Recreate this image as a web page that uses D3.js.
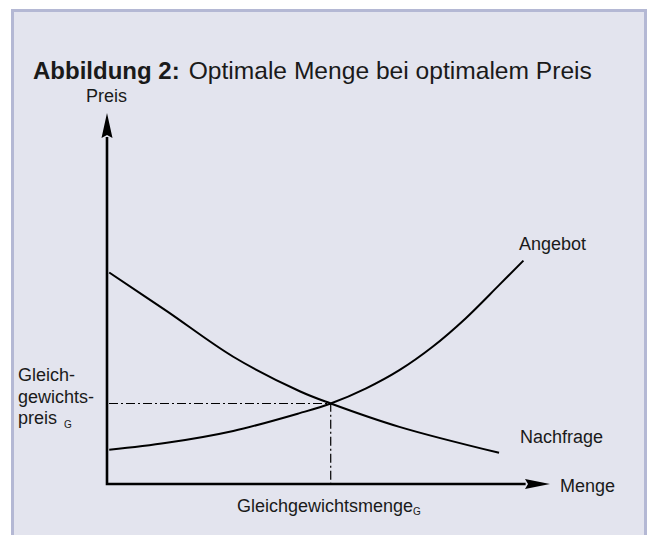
<!DOCTYPE html>
<html><head><meta charset="utf-8">
<script src="https://cdn.jsdelivr.net/npm/d3@7/dist/d3.min.js"></script>
<style>
html,body{margin:0;padding:0;background:#fff;}
svg{display:block;}
text{font-family:"Liberation Sans",Arial,Helvetica,sans-serif;fill:#1a1a1a;}
</style></head>
<body>
<script>
// Data (quantity 0..100, price 0..100)
const demandQ = [0.5, 13.5, 28.5, 43.5, 50.5, 66, 88.5];
const demandP = [57, 46.6, 34.3, 25, 21.7, 15.4, 8.4];
const supplyQ = [0.5, 13.5, 28.5, 43.5, 50.5, 58.5, 66, 73.5, 81, 88.5, 94];
const supplyP = [9.2, 11.1, 14.3, 19.1, 21.7, 25.8, 30.7, 37, 44.7, 53.6, 60.2];
const equilibrium = {q: 50.5, p: 21.7};
const titleBold = "Abbildung 2:";
const titleRest = "Optimale Menge bei optimalem Preis";
const yLabel = "Preis";
const xLabel = "Menge";
const supplyLabel = "Angebot";
const demandLabel = "Nachfrage";
const eqQtyLabel = "Gleichgewichtsmenge";
const eqPriceLines = ["Gleich-", "gewichts-", "preis"];
const subG = "G";

const W = 649, H = 535;
const svg = d3.select("body").append("svg").attr("width", W).attr("height", H);

svg.append("rect").attr("x", 12.5).attr("y", 10.5).attr("width", 633).attr("height", 540)
  .attr("fill", "#e3e4ee").attr("stroke", "#b4b8d4").attr("stroke-width", 3);

const x = d3.scaleLinear().domain([0, 100]).range([107, 550]);
const y = d3.scaleLinear().domain([0, 100]).range([484, 113]);

// Title
const t = svg.append("text").attr("x", 33).attr("y", 79).attr("font-size", 24);
t.append("tspan").attr("font-weight", "bold").text(titleBold);
t.append("tspan").attr("dx", 9).attr("font-size", 24.6).text(titleRest);

// Axes
const g = svg.append("g");
g.append("path")
  .attr("d", `M${x(0)},${y(93.5)}V${y(0)}H${x(94.5)}`)
  .attr("fill", "none").attr("stroke", "#000").attr("stroke-width", 2.6)
  .attr("stroke-linejoin", "miter").attr("stroke-linecap", "butt");
const ay = y(100), ax = x(100);
g.append("path")
  .attr("d", `M${x(0)},${ay}L${x(0)+5.5},${ay+25}L${x(0)},${ay+22}L${x(0)-5.5},${ay+25}Z`)
  .attr("fill", "#000");
g.append("path")
  .attr("d", `M${ax},${y(0)}L${ax-25},${y(0)-5}L${ax-22},${y(0)}L${ax-25},${y(0)+5}Z`)
  .attr("fill", "#000");

// Equilibrium dash-dot guides
g.append("path")
  .attr("d", `M${x(0)+2},${y(equilibrium.p)}H${x(equilibrium.q)}V${y(0)}`)
  .attr("fill", "none").attr("stroke", "#000").attr("stroke-width", 1.2)
  .attr("stroke-dasharray", "9,3,2,3");

const line = d3.line().x(d => x(d[0])).y(d => y(d[1])).curve(d3.curveCatmullRom.alpha(0.5));
g.append("path").datum(demandQ.map((q, i) => [q, demandP[i]]))
  .attr("d", line).attr("fill", "none").attr("stroke", "#000").attr("stroke-width", 2);
g.append("path").datum(supplyQ.map((q, i) => [q, supplyP[i]]))
  .attr("d", line).attr("fill", "none").attr("stroke", "#000").attr("stroke-width", 2);

// Labels
const fs = 18;
svg.append("text").attr("x", 86).attr("y", 102).attr("font-size", fs).text(yLabel);
svg.append("text").attr("x", 560).attr("y", 492).attr("font-size", fs).text(xLabel);
svg.append("text").attr("x", 519).attr("y", 250).attr("font-size", fs).text(supplyLabel);
svg.append("text").attr("x", 520).attr("y", 443).attr("font-size", fs).text(demandLabel);

const eq = svg.append("text").attr("x", 237).attr("y", 512).attr("font-size", fs);
eq.append("tspan").text(eqQtyLabel);
eq.append("tspan").attr("font-size", 10).attr("dy", 3).text(subG);

const baselines = [381, 403, 424];
eqPriceLines.forEach((s, i) => {
  svg.append("text").attr("x", 18).attr("y", baselines[i]).attr("font-size", fs).text(s);
});
svg.append("text").attr("x", 64).attr("y", 428).attr("font-size", 10).text(subG);
</script>
</body></html>
